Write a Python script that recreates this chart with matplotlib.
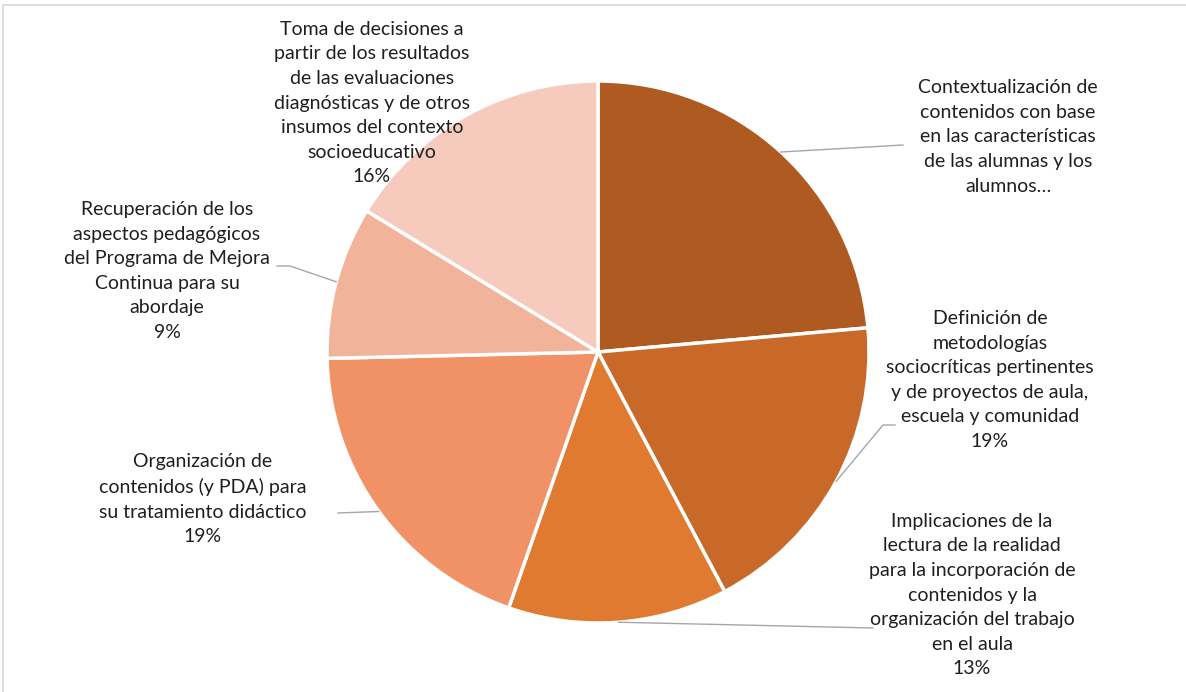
import matplotlib.pyplot as plt
import numpy as np
from matplotlib.patches import Rectangle

# datos del grafico (porcentajes)
categorias = [
    "Contextualización de\ncontenidos con base\nen las características\nde las alumnas y los\nalumnos…",
    "Definición de\nmetodologías\nsociocríticas pertinentes\ny de proyectos de aula,\nescuela y comunidad",
    "Implicaciones de la\nlectura de la realidad\npara la incorporación de\ncontenidos y la\norganización del trabajo\nen el aula",
    "Organización de\ncontenidos (y PDA) para\nsu tratamiento didáctico",
    "Recuperación de los\naspectos pedagógicos\ndel Programa de Mejora\nContinua para su\nabordaje",
    "Toma de decisiones a\npartir de los resultados\nde las evaluaciones\ndiagnósticas y de otros\ninsumos del contexto\nsocioeducativo",
]
valores = [23.6, 18.7, 13.1, 19.3, 9.1, 16.3]
mostrar_pct = [False, True, True, True, True, True]
colores = ["#AE5A21", "#C8692A", "#E07A30", "#F09266", "#F2B39B", "#F6CBBE"]

# posiciones en pixeles (figura 1186x692)
W, H = 1186, 692
CX, CY, R = 598, 352, 271
pos_texto = [(1008, 137), (990, 380), (972, 595), (203, 499), (167, 271), (372, 103)]
guias = [[(903, 145)], [(883, 425), (895, 425)], [(873, 628)], [(338, 513)],
         [(290, 266), (277, 266)], []]


def px(x, y):
    return (x - CX) / R, (CY - y) / R


fig = plt.figure(figsize=(W / 100, H / 100), dpi=100)
ax = fig.add_axes([0, 0, 1, 1])

wedges, _ = ax.pie(valores, colors=colores, startangle=90, counterclock=False,
                   wedgeprops=dict(edgecolor="white", linewidth=2.5))
ax.set_aspect("auto")
ax.set_xlim(-CX / R, (W - CX) / R)
ax.set_ylim((CY - H) / R, CY / R)
ax.axis("off")

# marco del area del grafico
fig.patches.append(Rectangle((3 / W, -0.05), 1.2, 1 - 5 / H + 0.05, transform=fig.transFigure,
                             fill=False, edgecolor="#D9D9D9", linewidth=1.2))

for i, w in enumerate(wedges):
    txt = categorias[i]
    if mostrar_pct[i]:
        txt += "\n%d%%" % round(valores[i])
    tx, ty = px(*pos_texto[i])
    ax.text(tx, ty, txt, ha="center", va="center", multialignment="center",
            fontsize=14, family="Lato", color="#1F1F1F", linespacing=1.54)
    if guias[i]:
        ang = np.deg2rad((w.theta1 + w.theta2) / 2)
        xs = [np.cos(ang)] + [px(*p)[0] for p in guias[i]]
        ys = [np.sin(ang)] + [px(*p)[1] for p in guias[i]]
        ax.plot(xs, ys, color="#A6A6A6", linewidth=1.0)

plt.savefig("out.png", dpi=100)
